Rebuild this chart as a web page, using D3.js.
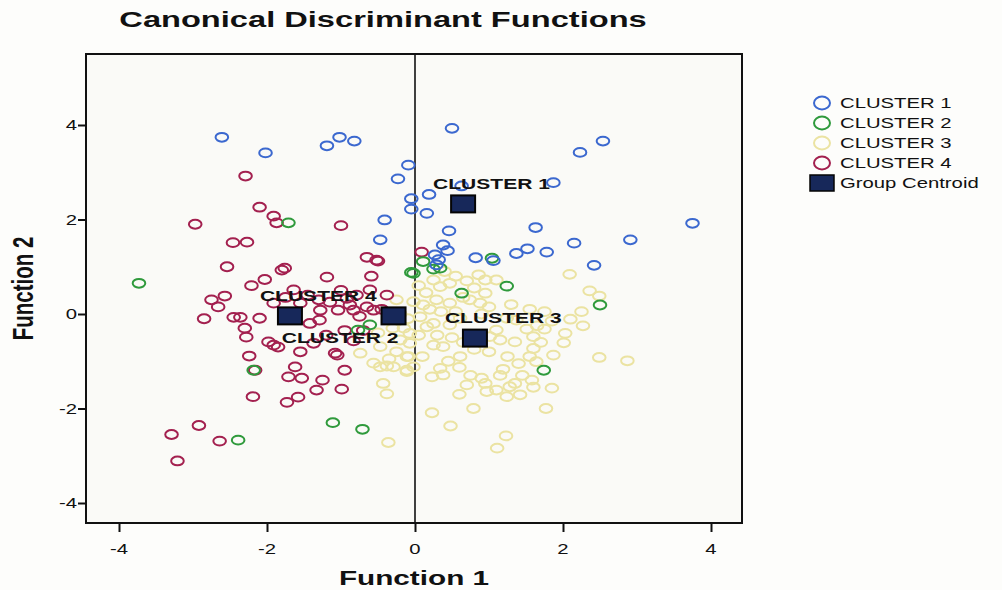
<!DOCTYPE html>
<html>
<head>
<meta charset="utf-8">
<script src="https://cdn.jsdelivr.net/npm/d3@7"></script>
<style>
  body { margin: 0; background: #fdfdfb; }
  svg { display: block; font-family: "Liberation Sans", Arial, sans-serif; }
</style>
</head>
<body>
<div id="chart"></div>
<script>
// values: [function 1, function 2]
const cluster1 = [
  [-2.61, 3.74], [-2.02, 3.41], [-1.19, 3.56], [-1.02, 3.74], [-0.82, 3.66],
  [-0.09, 3.15], [-0.23, 2.86], [-0.05, 2.44], [-0.05, 2.22], [-0.41, 1.99],
  [-0.47, 1.57], [0.50, 3.93], [2.23, 3.42], [2.54, 3.66], [0.19, 2.53],
  [0.16, 2.13], [0.63, 2.71], [1.87, 2.78], [3.75, 1.92], [0.46, 1.76],
  [1.63, 1.83], [2.15, 1.50], [2.91, 1.57], [0.38, 1.46], [0.44, 1.34],
  [0.82, 1.19], [1.06, 1.13], [1.37, 1.28], [1.52, 1.38], [1.78, 1.31],
  [2.42, 1.03], [0.27, 1.25], [0.29, 1.04], [0.32, 1.15]
];
const cluster2 = [
  [-1.71, 1.93], [-3.73, 0.65], [-0.05, 0.88], [-0.02, 0.86], [1.04, 1.18],
  [0.11, 1.11], [1.24, 0.59], [0.63, 0.44], [2.50, 0.19], [1.74, -1.19],
  [-2.18, -1.19], [-2.39, -2.67], [-1.11, -2.30], [-0.71, -2.44], [-0.61, -0.23],
  [-0.77, -0.34], [0.34, 0.97], [0.25, 0.95]
];
const cluster3 = [
  [2.09, 0.84], [2.36, 0.49], [2.49, 0.38], [2.27, -0.25], [2.10, -0.11],
  [2.49, -0.92], [2.87, -0.99], [1.87, -0.87], [1.60, -0.73], [1.55, -0.90],
  [1.64, -1.01], [2.01, -0.61], [2.03, -0.41], [1.75, -0.32], [1.60, -0.48],
  [1.35, -0.59], [1.19, -1.17], [1.58, -1.40], [1.85, -1.57], [1.77, -2.00],
  [1.35, -1.47], [1.28, -1.54], [1.42, -1.71], [1.24, -1.75], [1.10, -1.61],
  [0.95, -1.47], [0.90, -1.36], [0.97, -1.64], [0.79, -2.00], [0.23, -2.09],
  [0.48, -2.37], [1.23, -2.58], [1.11, -2.84], [0.61, -0.90], [0.60, -1.13],
  [0.34, -1.15], [0.23, -1.33], [0.38, -1.29], [-0.11, -1.22], [-0.02, -1.12],
  [-0.11, -0.90], [0.86, 0.83], [0.95, 0.72], [1.10, 0.72], [0.95, 0.44],
  [0.74, 0.30], [0.88, 0.23], [0.47, 0.23], [0.29, 0.30], [0.11, 0.19],
  [0.07, -0.06], [0.16, -0.27], [0.47, -0.23], [1.10, -0.34], [1.15, -0.55],
  [1.01, -0.48], [1.24, -0.09], [1.37, -0.13], [1.51, -0.32], [0.25, -0.66],
  [0.38, -0.69], [-0.07, -0.62], [0.61, -0.09], [0.34, 0.58], [0.25, 0.72],
  [0.47, 0.65], [-0.36, -2.72], [-0.43, -1.47], [-0.38, -1.69], [-0.56, -1.04],
  [-0.47, -1.12], [-0.38, -1.10], [-0.29, -1.12], [-0.11, -1.19], [-0.09, -0.90],
  [-0.74, -0.83], [-0.25, -0.80], [-0.20, -0.55], [-0.47, -0.69], [-0.07, -0.41],
  [-0.02, 0.26], [0.05, 0.60], [0.15, 0.45], [0.20, 0.10], [0.35, 0.05],
  [0.55, 0.05], [0.65, 0.35], [0.80, 0.55], [0.55, 0.80], [0.70, 0.70],
  [0.90, 0.00], [1.00, 0.15], [1.30, 0.20], [1.55, 0.10], [1.75, 0.05],
  [1.85, -0.15], [1.65, -0.25], [0.30, -0.45], [0.50, -0.50], [0.65, -0.60],
  [0.80, -0.75], [1.00, -0.80], [1.25, -0.90], [1.40, -1.05], [0.45, -1.00],
  [0.10, -0.90], [-0.30, -0.30], [-0.20, 0.00], [-0.35, -0.95], [0.75, -1.30],
  [1.15, -1.30], [1.45, -1.30], [1.60, -1.55], [0.60, -1.70], [0.70, -1.50],
  [-0.10, -0.10], [0.05, -0.45], [0.25, -0.20], [1.70, -0.60], [2.25, 0.05],
  [0.40, 0.90], [-0.50, -0.40], [-0.15, -0.30], [-0.25, 0.30]
];
const cluster4 = [
  [-2.29, 2.92], [-2.10, 2.26], [-1.91, 2.07], [-1.87, 1.93], [-2.97, 1.90],
  [-2.46, 1.51], [-2.27, 1.52], [-1.00, 1.87], [-2.54, 1.00], [-1.80, 0.93],
  [-1.76, 0.97], [-2.03, 0.73], [-2.21, 0.60], [-1.19, 0.78], [-0.65, 1.20],
  [-0.52, 1.14], [-0.50, 1.12], [-0.59, 0.80], [0.09, 1.31], [-2.75, 0.30],
  [-2.57, 0.38], [-2.66, 0.15], [-2.85, -0.10], [-2.45, -0.07], [-2.36, -0.07],
  [-2.10, -0.09], [-1.91, 0.23], [-1.64, 0.51], [-1.55, 0.23], [-1.28, 0.08],
  [-1.29, -0.13], [-1.42, -0.20], [-1.04, 0.08], [-0.88, 0.19], [-0.83, 0.08],
  [-0.65, 0.15], [-0.56, 0.08], [-0.61, 0.51], [-0.38, 0.40], [-0.79, 0.40],
  [-0.92, 0.33], [-2.28, -0.49], [-1.98, -0.59], [-1.91, -0.66], [-1.85, -0.70],
  [-1.55, -0.80], [-1.37, -0.62], [-1.08, -0.83], [-1.05, -0.87], [-0.83, -0.57],
  [-2.24, -0.89], [-2.16, -1.19], [-1.62, -1.12], [-1.71, -1.33], [-1.53, -1.36],
  [-1.25, -1.40], [-1.33, -1.61], [-0.95, -1.19], [-0.99, -1.59], [-2.19, -1.75],
  [-1.73, -1.87], [-1.58, -1.76], [-3.29, -2.55], [-2.92, -2.36], [-2.64, -2.69],
  [-3.21, -3.11], [-1.30, 0.30], [-1.15, 0.25], [-0.75, -0.05], [-0.45, 0.10],
  [-1.75, 0.35], [-1.45, 0.40], [-0.95, -0.35], [-0.70, -0.35], [-2.30, -0.30],
  [-1.20, -0.45], [-1.00, 0.50]
];

const centroidNames = ['CLUSTER 1', 'CLUSTER 2', 'CLUSTER 3', 'CLUSTER 4'];
const centroidX = [0.65, -0.29, 0.81, -1.69];
const centroidY = [2.33, -0.04, -0.51, -0.04];

const xTicks = [-4, -2, 0, 2, 4];
const yTicks = [-4, -2, 0, 2, 4];

const legendLabels = ['CLUSTER 1', 'CLUSTER 2', 'CLUSTER 3', 'CLUSTER 4', 'Group Centroid'];
const clusterColors = ['#3b68cf', '#2f9a3c', '#ebe3a2', '#a3204f'];

// the picture is stretched sideways, so text gets this x scale
const SX = 1.45;

const width = 1002;
const height = 590;
const plot = {left: 86, right: 742, top: 54, bottom: 523};

const svg = d3.select('#chart').append('svg')
  .attr('width', width)
  .attr('height', height);

const x = d3.scaleLinear().domain([-4, 4]).range([119, 711]);
const y = d3.scaleLinear().domain([-4, 4]).range([503, 125]);

function label(g, txt, px, py, size, weight, anchor) {
  return g.append('text')
    .attr('transform', 'translate(' + px + ',' + py + ') scale(' + SX + ',1)')
    .attr('text-anchor', anchor || 'middle')
    .style('font-size', size + 'px')
    .style('font-weight', weight || 'normal')
    .style('fill', '#111')
    .text(txt);
}

// title
label(svg, 'Canonical Discriminant Functions', 383, 27, 22.5, 'bold');

// plot background
svg.append('rect')
  .attr('x', plot.left).attr('y', plot.top)
  .attr('width', plot.right - plot.left)
  .attr('height', plot.bottom - plot.top)
  .style('fill', '#fafaf7');

// axes with outward ticks, labels drawn separately (stretched, plain hyphen)
const xAxis = svg.append('g')
  .attr('transform', 'translate(0,' + plot.bottom + ')')
  .call(d3.axisBottom(x).tickValues(xTicks).tickSize(9));
const yAxis = svg.append('g')
  .attr('transform', 'translate(' + plot.left + ',0)')
  .call(d3.axisLeft(y).tickValues(yTicks).tickSize(8));

[xAxis, yAxis].forEach(function (ax) {
  ax.select('.domain').remove();
  ax.selectAll('line').style('stroke', '#111').style('stroke-width', 2);
  ax.selectAll('text').remove();
});
xTicks.forEach(function (t) {
  label(svg, String(t), x(t), 554, 14);
});
yTicks.forEach(function (t) {
  label(svg, String(t), plot.left - 9, y(t) + 5, 14, 'normal', 'end');
});

// zero line
svg.append('line')
  .attr('x1', x(0)).attr('x2', x(0))
  .attr('y1', plot.top).attr('y2', plot.bottom)
  .style('stroke', '#111').style('stroke-width', 1.6);

// points, drawn 3, 4, 2, 1
const clusters = [cluster1, cluster2, cluster3, cluster4];
[2, 3, 1, 0].forEach(function (ci) {
  svg.append('g').selectAll('ellipse')
    .data(clusters[ci])
    .enter().append('ellipse')
      .attr('cx', d => x(d[0]))
      .attr('cy', d => y(d[1]))
      .attr('rx', 6.3)
      .attr('ry', 4.4)
      .style('fill', 'none')
      .style('stroke', clusterColors[ci])
      .style('stroke-width', 2);
});

// centroids
const cw = 24, ch = 17;
centroidNames.forEach(function (name, i) {
  const cx = x(centroidX[i]);
  const cy = y(centroidY[i]);
  svg.append('rect')
    .attr('x', cx - cw / 2).attr('y', cy - ch / 2)
    .attr('width', cw).attr('height', ch)
    .style('fill', '#17285a')
    .style('stroke', '#050505')
    .style('stroke-width', 2);
  if (name === 'CLUSTER 2') {
    label(svg, name, cx + 5, cy + 27, 14.5, 'bold', 'end');
  } else {
    label(svg, name, cx - 30, cy - 15, 14.5, 'bold', 'start');
  }
});

// frame
svg.append('rect')
  .attr('x', plot.left).attr('y', plot.top)
  .attr('width', plot.right - plot.left)
  .attr('height', plot.bottom - plot.top)
  .style('fill', 'none')
  .style('stroke', '#111')
  .style('stroke-width', 2);

// axis titles
label(svg, 'Function 1', (plot.left + plot.right) / 2, 585, 20.5, 'bold');
svg.append('text')
  .attr('transform', 'translate(33,' + (plot.top + plot.bottom) / 2 + ') scale(' + SX + ',1) rotate(-90)')
  .attr('text-anchor', 'middle')
  .style('font-size', '20.5px')
  .style('font-weight', 'bold')
  .style('fill', '#111')
  .text('Function 2');

// legend
const legend = svg.append('g');
legendLabels.forEach(function (txt, i) {
  const ly = 103 + i * 20;
  if (i < 4) {
    legend.append('ellipse')
      .attr('cx', 822).attr('cy', ly)
      .attr('rx', 8).attr('ry', 6.5)
      .style('fill', 'none')
      .style('stroke', clusterColors[i])
      .style('stroke-width', 2);
  } else {
    legend.append('rect')
      .attr('x', 810).attr('y', ly - 8)
      .attr('width', 24).attr('height', 16)
      .style('fill', '#17285a')
      .style('stroke', '#050505')
      .style('stroke-width', 1.5);
  }
  label(legend, txt, 840, ly + 5, 14, 'normal', 'start');
});
</script>
</body>
</html>
